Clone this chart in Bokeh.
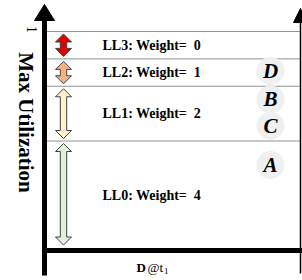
import math
from bokeh.plotting import figure
from bokeh.models import Range1d
from bokeh.core.properties import value
from bokeh.embed import file_html
from bokeh.resources import INLINE

# ---------------- data ----------------
levels = ["LL3", "LL2", "LL1", "LL0"]
weights = [0, 1, 2, 4]
lower = [0.875, 0.75, 0.5, 0.0]
upper = [1.0, 0.875, 0.75, 0.5]
level_colors = ["#e00000", "#f4b183", "#fff2cc", "#e2f0d9"]
points = ["D", "B", "C", "A"]
point_util = [0.82, 0.69, 0.57, 0.39]
y_label = "Max Utilization"
y_tick = "1"

# ---------------- layout (pixel geometry) ----------------
W, H = 302, 280
PX_X0, PX_PER_X = 44.0, 256.0   # x = 0 at left axis, x = 1 at right line
PX_Y0, PX_PER_Y = 250.0, 219.0  # y = 0 at horizontal axis, y = 1 at top line

def X(px):
    return (px - PX_X0) / PX_PER_X

def Y(py):
    return (PX_Y0 - py) / PX_PER_Y

def dx(px):
    return px / PX_PER_X

def dy(px):
    return px / PX_PER_Y

SERIF = value("Liberation Serif")

p = figure(width=W, height=H, x_range=Range1d(X(0), X(W)), y_range=Range1d(Y(H), Y(0)),
           x_axis_type=None, y_axis_type=None, toolbar_location=None,
           output_backend="svg", min_border=0, outline_line_color=None,
           background_fill_color="white", border_fill_color="white")
p.grid.visible = False

# dotted level boundaries
bounds = sorted(set(upper), reverse=True)
p.segment(x0=[dx(2)] * len(bounds), x1=[1.0] * len(bounds), y0=bounds, y1=bounds,
          line_color="#222222", line_width=1, line_dash="1 1")

# left axis shaft + head
p.segment(x0=[0], x1=[0], y0=[Y(275)], y1=[Y(18)], line_color="black", line_width=5)
p.patch(x=[-dx(10), 0, dx(10)], y=[Y(20), Y(4), Y(20)], fill_color="black", line_color="black")
# horizontal axis
p.segment(x0=[-dx(2.5)], x1=[X(W)], y0=[0], y1=[0], line_color="black", line_width=5)
# right line + head
p.segment(x0=[1], x1=[1], y0=[Y(273)], y1=[Y(20)], line_color="black", line_width=1.5)
p.patch(x=[1 - dx(7), 1, 1 + dx(7)], y=[Y(22), Y(8), Y(22)], fill_color="black", line_color="black")

# double arrows for levels
cx = X(63)
hw, sw, hl = dx(8), dx(3.2), dy(8)
xs, ys = [], []
for lo, up in zip(lower, upper):
    top = up - dy(2.5)
    bot = lo + dy(2.5) + (dy(3) if lo == 0 else 0)
    xs.append([cx, cx + hw, cx + sw, cx + sw, cx + hw, cx, cx - hw, cx - sw, cx - sw, cx - hw])
    ys.append([top, top - hl, top - hl, bot + hl, bot + hl, bot, bot + hl, bot + hl, top - hl, top - hl])
p.patches(xs=xs, ys=ys, fill_color=level_colors, line_color="#404040", line_width=1)

# level labels
mids = [(lo + up) / 2 for lo, up in zip(lower, upper)]
labels = [f"{l}: Weight=\u00a0 {w}" for l, w in zip(levels, weights)]
p.text(x=[X(102)] * len(labels), y=mids, text=labels, text_font=SERIF,
       text_font_style="bold", text_font_size="14px", text_color="black",
       text_align="left", text_baseline="middle")

# points
pc = X(270)
p.scatter(x=[pc] * len(points), y=point_util, size=28, fill_color="#f0f0f0", line_color=None)
p.text(x=[pc] * len(points), y=point_util, text=points, text_font=SERIF,
       text_font_style="bold italic", text_font_size="21px", text_color="black",
       text_align="center", text_baseline="middle")

# y label & tick
p.text(x=[X(25)], y=[Y(122)], text=[y_label], angle=-math.pi / 2, text_font=SERIF,
       text_font_style="bold", text_font_size="21px", text_align="center", text_baseline="middle")
p.text(x=[X(31)], y=[Y(29)], text=[y_tick], angle=-math.pi / 2, text_font=SERIF,
       text_font_size="14px", text_align="center", text_baseline="middle")

# x label "D @t1"
p.text(x=[X(136)], y=[Y(267)], text=["D"], text_font=SERIF, text_font_style="bold",
       text_font_size="13px", text_align="left", text_baseline="alphabetic")
p.text(x=[X(147)], y=[Y(267)], text=["@t"], text_font=SERIF,
       text_font_size="13px", text_align="left", text_baseline="alphabetic")
p.text(x=[X(163.5)], y=[Y(270)], text=["1"], text_font=SERIF,
       text_font_size="9px", text_align="left", text_baseline="alphabetic")

open("out.html", "w").write(file_html(p, INLINE))
